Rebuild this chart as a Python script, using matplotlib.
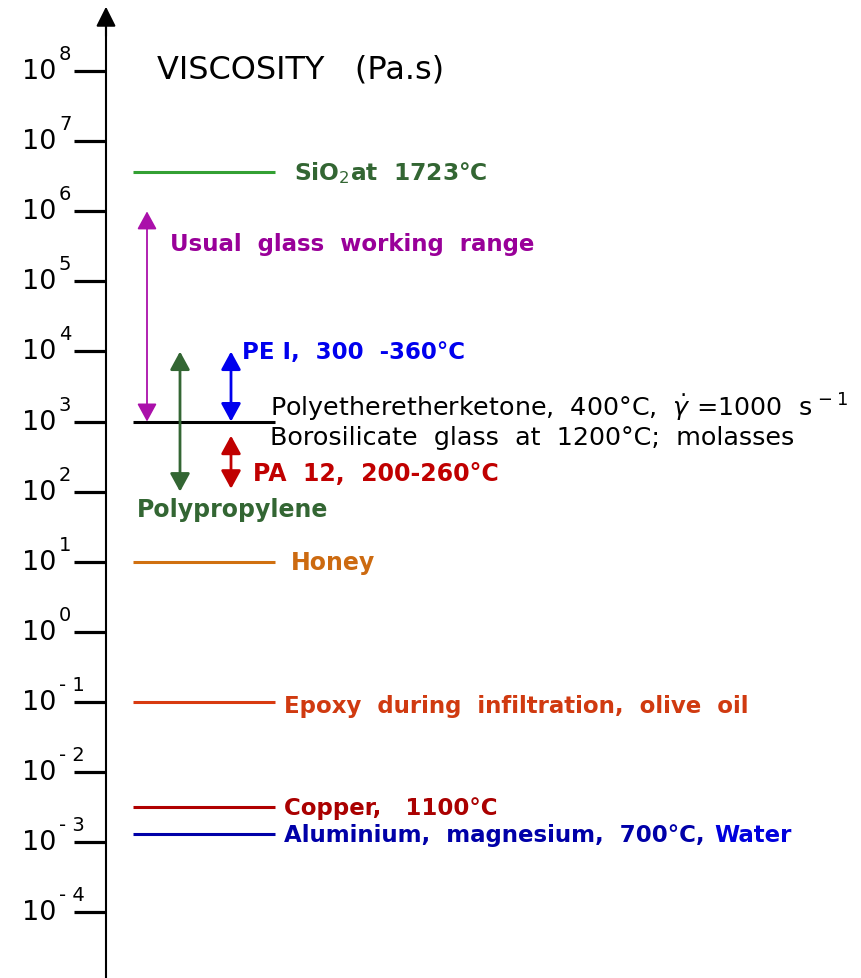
import numpy as np
import matplotlib
matplotlib.use("Agg")
from matplotlib import pyplot as plt

# decades shown on the viscosity axis (Pa.s)
decades = [8, 7, 6, 5, 4, 3, 2, 1, 0, -1, -2, -3, -4]

# single viscosity values drawn as horizontal bars
bar_values = [3.6e6, 1e3, 10.0, 0.1, 3.2e-3, 1.3e-3]
bar_colors = ["#33a033", "#000000", "#d07010", "#d83a10", "#b00000", "#0000a8"]

# viscosity ranges drawn as double arrows
range_low = [1e3, 1e2, 1e3, 1.1e2]
range_high = [1e6, 1e4, 1e4, 6.3e2]
range_x = [147, 180, 231, 231]
range_colors = ["#aa10aa", "#336633", "#0000ee", "#c00000"]
range_widths = [1.3, 2.0, 2.0, 2.0]

# text labels: (x, viscosity, text, colour, weight, size)
labels = [
    (157, 10 ** 8.03, "VISCOSITY   (Pa.s)", "black", "normal", 23),
    (294, 3.6e6, r"SiO$_2$at  1723°C", "#336633", "bold", 16.8),
    (170, 3.5e5, "Usual  glass  working  range", "#990099", "bold", 16.5),
    (242, 1.0e4, "PE I,  300  -360°C", "#0000ee", "bold", 16.5),
    (270, 1.62e3, r"Polyetheretherketone,  400°C,  $\dot{\gamma}$ =1000  s$^{\,-1}$", "black", "normal", 18.3),
    (270, 6.1e2, "Borosilicate  glass  at  1200°C;  molasses", "black", "normal", 18.3),
    (253, 1.86e2, "PA  12,  200-260°C", "#c00000", "bold", 17),
    (137, 56.0, "Polypropylene", "#336633", "bold", 17),
    (291, 10.0, "Honey", "#cc6a10", "bold", 17),
    (284, 0.09, "Epoxy  during  infiltration,  olive  oil", "#d03a10", "bold", 16.5),
    (284, 3.1e-3, "Copper,   1100°C", "#aa0000", "bold", 16.5),
    (284, 1.3e-3, "Aluminium,  magnesium,  700°C,", "#0000a8", "bold", 16.5),
    (714, 1.3e-3, "Water", "#0000dd", "bold", 16.5),
]

fig = plt.figure(figsize=(8.62, 9.79), dpi=100)
ax = fig.add_axes([0, 0, 1, 1])
ax.set_yscale("log")
ax.set_xlim(0, 862)
ax.set_ylim(10 ** -4.94, 10 ** 9.03)
ax.axis("off")

# vertical axis with arrow head
ax.plot([106, 106], [10 ** -4.94, 10 ** 8.7], color="black", lw=1.5)
ax.annotate("", xy=(106, 10 ** 8.92), xytext=(106, 10 ** 8.5),
            arrowprops=dict(arrowstyle="-|>,head_length=1.2,head_width=0.6",
                            color="black", lw=1.5, mutation_scale=10,
                            shrinkA=0, shrinkB=0),
            annotation_clip=False)

for d in decades:
    ax.plot([74, 106], [10.0 ** d, 10.0 ** d], color="black", lw=2.3,
            solid_capstyle="butt")
    ax.text(56, 10.0 ** d, "10", ha="right", va="center", fontsize=19.5)
    exp = str(d) if d >= 0 else "- %d" % (-d)
    ax.text(59, 10.0 ** (d + 0.25), exp, ha="left", va="center", fontsize=14)

for v, c in zip(bar_values, bar_colors):
    ax.plot([133, 275], [v, v], color=c, lw=2.2, solid_capstyle="butt")

for lo, hi, x, c, w in zip(range_low, range_high, range_x, range_colors, range_widths):
    ax.annotate("", xy=(x, hi), xytext=(x, lo),
                arrowprops=dict(arrowstyle="<|-|>,head_length=1.1,head_width=0.6",
                                color=c, lw=w, mutation_scale=10,
                                shrinkA=0, shrinkB=0))

for x, v, s, c, wt, fs in labels:
    ax.text(x, v, s, color=c, fontweight=wt, fontsize=fs, ha="left", va="center")

fig.savefig("out.png", dpi=100)
